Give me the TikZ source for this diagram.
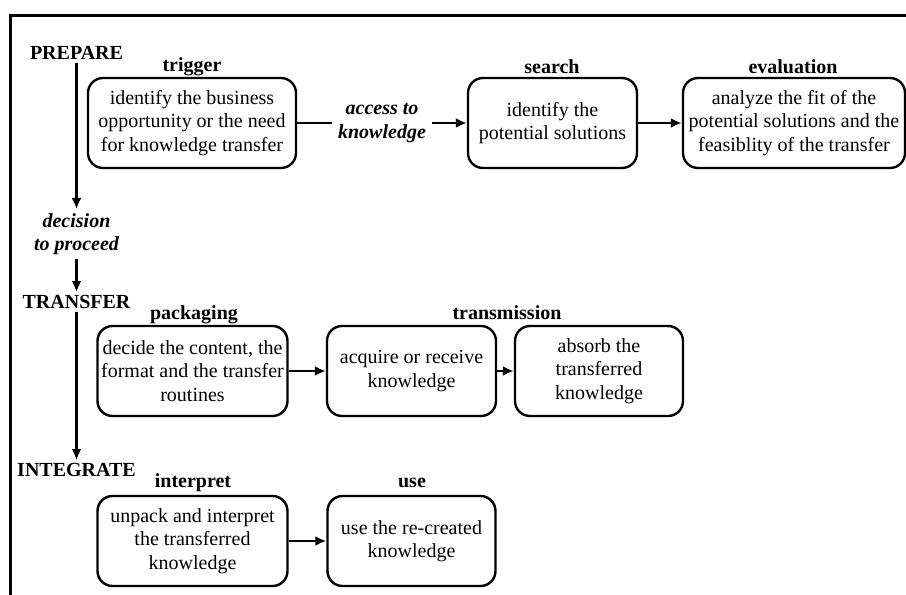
\documentclass[tikz,border=0pt]{standalone}
\usepackage{fontspec}
\setmainfont{Liberation Serif}
\usetikzlibrary{arrows.meta}
\begin{document}
\begin{tikzpicture}[x=1pt,y=-1pt,
  every node/.style={font=\fontsize{20}{23.5}\selectfont},
  box/.style={draw,line width=2.4pt,rounded corners=15pt,align=center,inner sep=2pt,minimum height=90pt},
  lab/.style={font=\fontsize{20}{23.5}\selectfont\bfseries},
  stage/.style={font=\fontsize{20}{23.5}\selectfont\bfseries,inner sep=3pt},
  cue/.style={font=\fontsize{20}{23.5}\selectfont\bfseries\itshape,align=center,inner sep=4pt},
  arr/.style={line width=2.2pt,-{Latex[length=11pt,width=10pt]}},
  ln/.style={line width=2.2pt}
]
\useasboundingbox (0,0) rectangle (906,595);
\draw[line width=3pt] (908,15) -- (10,15) -- (10,597);

% stages
\node[stage] (prep) at (76.5,53) {PREPARE};
\node[cue] (dec) at (76.5,234) {decision\\to proceed};
\node[stage] (trans) at (76.5,302) {TRANSFER};
\node[stage] (integ) at (76.5,470) {INTEGRATE};
\draw[arr] (prep.south) -- (dec.north);
\draw[arr] (dec.south) -- (trans.north);
\draw[arr] (trans.south) -- (integ.north);

% row 1
\node[box,minimum width=208pt] (trig) at (192,123) {identify the business\\opportunity or the need\\for knowledge transfer};
\node[box,minimum width=169pt] (srch) at (552.5,123) {identify the\\potential solutions};
\node[box,minimum width=222pt] (eval) at (794,123) {analyze the fit of the\\potential solutions and the\\feasiblity of the transfer};
\node[lab] at (192,67) {trigger};
\node[lab] at (552,67) {search};
\node[lab] at (793,67) {evaluation};
\node[cue,inner sep=6pt] (acc) at (382,123) {access to\\knowledge};
\draw[ln] (trig.east) -- (acc.west);
\draw[arr] (acc.east) -- (srch.west);
\draw[arr] (srch.east) -- (eval.west);

% row 2
\node[box,minimum width=190pt] (pack) at (192.5,371) {decide the content, the\\format and the transfer\\routines};
\node[box,minimum width=169pt] (acq) at (411.5,371) {acquire or receive\\knowledge};
\node[box,minimum width=168pt] (abs) at (599,371) {absorb the\\transferred\\knowledge};
\node[lab] at (194,315) {packaging};
\node[lab] at (507,313) {transmission};
\draw[arr] (pack.east) -- (acq.west);
\draw[arr] (acq.east) -- (abs.west);

% row 3
\node[box,minimum width=190pt] (intp) at (192.5,541) {unpack and interpret\\the transferred\\knowledge};
\node[box,minimum width=168pt] (use) at (411.5,541) {use the re-created\\knowledge};
\node[lab] at (193,483) {interpret};
\node[lab] at (412,483) {use};
\draw[arr] (intp.east) -- (use.west);
\end{tikzpicture}
\end{document}
